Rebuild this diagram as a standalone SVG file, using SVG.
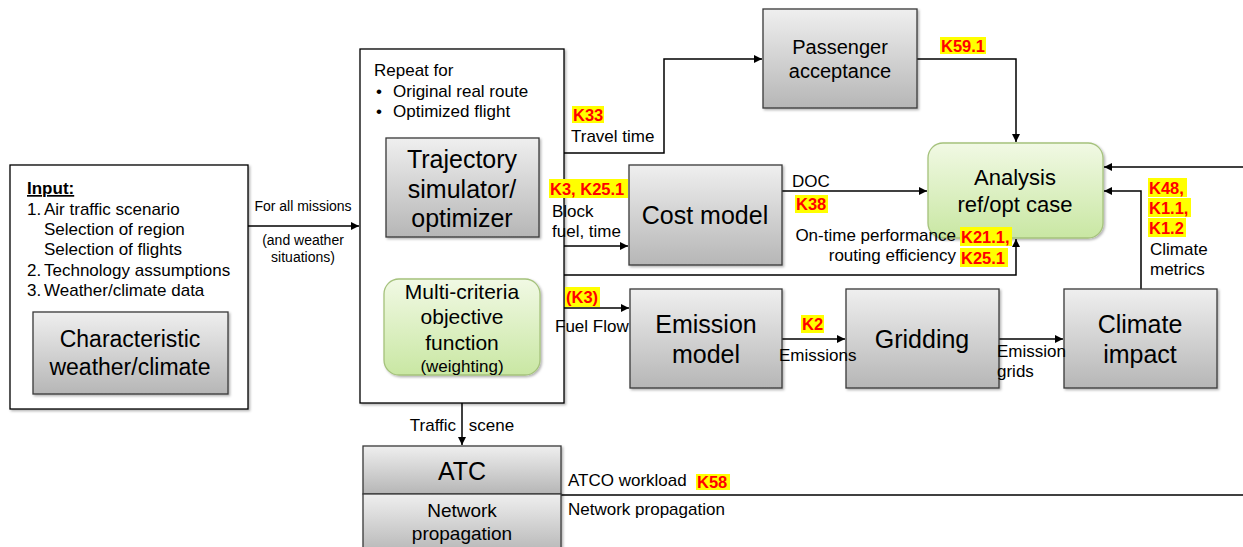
<svg xmlns="http://www.w3.org/2000/svg" width="1243" height="547" viewBox="0 0 1243 547">
<style>
text{font-family:"Liberation Sans",Arial,sans-serif;fill:#000}
.lbl{font-size:17px}
.sm{font-size:14px}
.c{text-anchor:middle}
.big{font-size:25px}
.k{font-size:16.5px;font-weight:bold;fill:#ff0000}
.hl{fill:#ffff00}
.gbox{fill:url(#gray);stroke:#3a3a3a;stroke-width:1.3;filter:url(#sh)}
.grn{fill:url(#green);stroke:#a5c27c;stroke-width:1.3;filter:url(#sh)}
.wbox{fill:#fff;stroke:#000;stroke-width:1.3;filter:url(#sh)}
.ln{fill:none;stroke:#000;stroke-width:1.5}
</style>
<defs>
<linearGradient id="gray" x1="0" y1="0" x2="0" y2="1"><stop offset="0" stop-color="#efefef"/><stop offset="1" stop-color="#b6b6b6"/></linearGradient>
<linearGradient id="green" x1="0" y1="0" x2="0" y2="1"><stop offset="0" stop-color="#f1f9e4"/><stop offset="1" stop-color="#c9e7a3"/></linearGradient>
<filter id="sh" x="-5%" y="-5%" width="115%" height="115%"><feDropShadow dx="1.5" dy="1.5" stdDeviation="1" flood-color="#000" flood-opacity="0.3"/></filter>
<marker id="ar" viewBox="0 0 10 10" refX="10" refY="5" markerWidth="10" markerHeight="8" markerUnits="userSpaceOnUse" orient="auto-start-reverse"><path d="M0,0 L10,5 L0,10 z" fill="#000"/></marker>
</defs>

<g id="connectors">
<line class="ln" x1="248" y1="226" x2="359" y2="226" marker-end="url(#ar)"/>
<polyline class="ln" points="564,153 664,153 664,59 762,59" marker-end="url(#ar)"/>
<polyline class="ln" points="917,59 1016,59 1016,142" marker-end="url(#ar)"/>
<line class="ln" x1="564" y1="246" x2="628" y2="246" marker-end="url(#ar)"/>
<line class="ln" x1="782" y1="191" x2="927" y2="191" marker-end="url(#ar)"/>
<polyline class="ln" points="564,275 1016,275 1016,239" marker-end="url(#ar)"/>
<line class="ln" x1="564" y1="308" x2="629" y2="308" marker-end="url(#ar)"/>
<line class="ln" x1="782" y1="339" x2="845" y2="339" marker-end="url(#ar)"/>
<line class="ln" x1="999" y1="339" x2="1063" y2="339" marker-end="url(#ar)"/>
<polyline class="ln" points="1141,289 1141,191 1104,191" marker-end="url(#ar)"/>
<line class="ln" x1="1243" y1="167" x2="1104" y2="167" marker-end="url(#ar)"/>
<line class="ln" x1="462" y1="238" x2="462" y2="278" marker-start="url(#ar)" marker-end="url(#ar)"/>
<line class="ln" x1="462" y1="403" x2="462" y2="445" marker-end="url(#ar)"/>
<line x1="561" y1="495" x2="1243" y2="495" stroke="#404040" stroke-width="2.2"/>
</g>

<g id="input">
<rect class="wbox" x="10" y="165" width="238" height="244"/>
<text class="lbl" x="27" y="194" font-weight="bold" text-decoration="underline">Input:</text>
<text class="lbl" x="27" y="215">1.</text><text class="lbl" x="44" y="215">Air traffic scenario</text>
<text class="lbl" x="44" y="235">Selection of region</text>
<text class="lbl" x="44" y="255">Selection of flights</text>
<text class="lbl" x="27" y="276">2.</text><text class="lbl" x="44" y="276">Technology assumptions</text>
<text class="lbl" x="27" y="296">3.</text><text class="lbl" x="44" y="296">Weather/climate data</text>
</g>
<g id="characteristic">
<rect class="gbox" x="33" y="312" width="195" height="82"/>
<text class="c" x="130" y="347" font-size="23">Characteristic</text>
<text class="c" x="130" y="375" font-size="23">weather/climate</text>
</g>
<g id="missions-label">
<text class="sm c" x="303" y="211">For all missions</text>
<text class="sm c" x="303" y="245">(and weather</text>
<text class="sm c" x="303" y="262">situations)</text>
</g>

<g id="repeat">
<rect class="wbox" x="360" y="49" width="204" height="354"/>
<text class="lbl" x="374" y="76">Repeat for</text>
<text class="lbl" x="376" y="97">•</text><text class="lbl" x="393" y="97">Original real route</text>
<text class="lbl" x="376" y="117">•</text><text class="lbl" x="393" y="117">Optimized flight</text>
</g>
<g id="trajectory">
<rect class="gbox" x="386" y="138" width="153" height="99"/>
<text class="big c" x="462" y="168">Trajectory</text>
<text class="big c" x="462" y="198">simulator/</text>
<text class="big c" x="462" y="227">optimizer</text>
</g>
<g id="multicriteria">
<rect class="grn" x="384" y="279" width="156" height="96" rx="15"/>
<text class="c" x="462" y="299" font-size="21">Multi-criteria</text>
<text class="c" x="462" y="324" font-size="21">objective</text>
<text class="c" x="462" y="350" font-size="21">function</text>
<text class="c" x="462" y="372" font-size="17">(weighting)</text>
</g>

<g id="passenger">
<rect class="gbox" x="763" y="9" width="154" height="99"/>
<text class="c" x="840" y="54" font-size="20">Passenger</text>
<text class="c" x="840" y="78" font-size="20">acceptance</text>
</g>
<g id="cost">
<rect class="gbox" x="629" y="165" width="153" height="100"/>
<text class="big c" x="705" y="224">Cost model</text>
</g>
<g id="analysis">
<rect class="grn" x="928" y="143" width="175" height="95" rx="15"/>
<text class="c" x="1015" y="185" font-size="22">Analysis</text>
<text class="c" x="1015" y="212" font-size="22">ref/opt case</text>
</g>
<g id="emission">
<rect class="gbox" x="630" y="289" width="152" height="99"/>
<text class="big c" x="706" y="333">Emission</text>
<text class="big c" x="706" y="363">model</text>
</g>
<g id="gridding">
<rect class="gbox" x="846" y="289" width="153" height="99"/>
<text class="big c" x="922" y="348">Gridding</text>
</g>
<g id="climate">
<rect class="gbox" x="1064" y="289" width="153" height="99"/>
<text class="big c" x="1140" y="333">Climate</text>
<text class="big c" x="1140" y="363">impact</text>
</g>
<g id="atc">
<rect class="gbox" x="363" y="446" width="198" height="48"/>
<text class="big c" x="462" y="480">ATC</text>
</g>
<g id="network">
<rect class="gbox" x="363" y="494" width="198" height="60"/>
<text class="c" x="462" y="517" font-size="19">Network</text>
<text class="c" x="462" y="540" font-size="19">propagation</text>
</g>

<g id="labels">
<rect class="hl" x="572" y="106" width="32" height="17"/><text class="k" x="573" y="121">K33</text>
<text class="lbl" x="571" y="142">Travel time</text>
<rect class="hl" x="940" y="37" width="46" height="17"/><text class="k" x="941" y="52">K59.1</text>
<rect class="hl" x="549" y="179" width="79" height="19"/><text class="k" x="550" y="195">K3, K25.1</text>
<text class="lbl" x="552" y="217">Block</text>
<text class="lbl" x="552" y="237">fuel, time</text>
<text class="lbl" x="792" y="187">DOC</text>
<rect class="hl" x="795" y="195" width="33" height="18"/><text class="k" x="796" y="210">K38</text>
<text class="lbl" x="956" y="241" text-anchor="end">On-time performance</text>
<text class="lbl" x="956" y="261" text-anchor="end">routing efficiency</text>
<rect class="hl" x="960" y="227" width="52" height="19"/><text class="k" x="961" y="243">K21.1,</text>
<rect class="hl" x="960" y="248" width="48" height="19"/><text class="k" x="961" y="264">K25.1</text>
<rect class="hl" x="1148" y="178" width="39" height="19"/><text class="k" x="1149" y="194">K48,</text>
<rect class="hl" x="1148" y="198" width="43" height="19"/><text class="k" x="1149" y="214">K1.1,</text>
<rect class="hl" x="1148" y="218" width="38" height="19"/><text class="k" x="1149" y="234">K1.2</text>
<text class="lbl" x="1150" y="255">Climate</text>
<text class="lbl" x="1150" y="275">metrics</text>
<rect class="hl" x="565" y="287" width="35" height="20"/><text class="k" x="566" y="303">(K3)</text>
<text class="lbl" x="555" y="332">Fuel Flow</text>
<rect class="hl" x="801" y="315" width="23" height="18"/><text class="k" x="802" y="330">K2</text>
<text class="lbl" x="779" y="361">Emissions</text>
<text class="lbl" x="997" y="357">Emission</text>
<text class="lbl" x="997" y="377">grids</text>
<text class="lbl c" x="462" y="431" word-spacing="8">Traffic scene</text>
<text class="lbl" x="568" y="486">ATCO workload</text>
<rect class="hl" x="696" y="474" width="34" height="16"/><text class="k" x="697" y="488">K58</text>
<text class="lbl" x="568" y="515">Network propagation</text>
</g>
</svg>
